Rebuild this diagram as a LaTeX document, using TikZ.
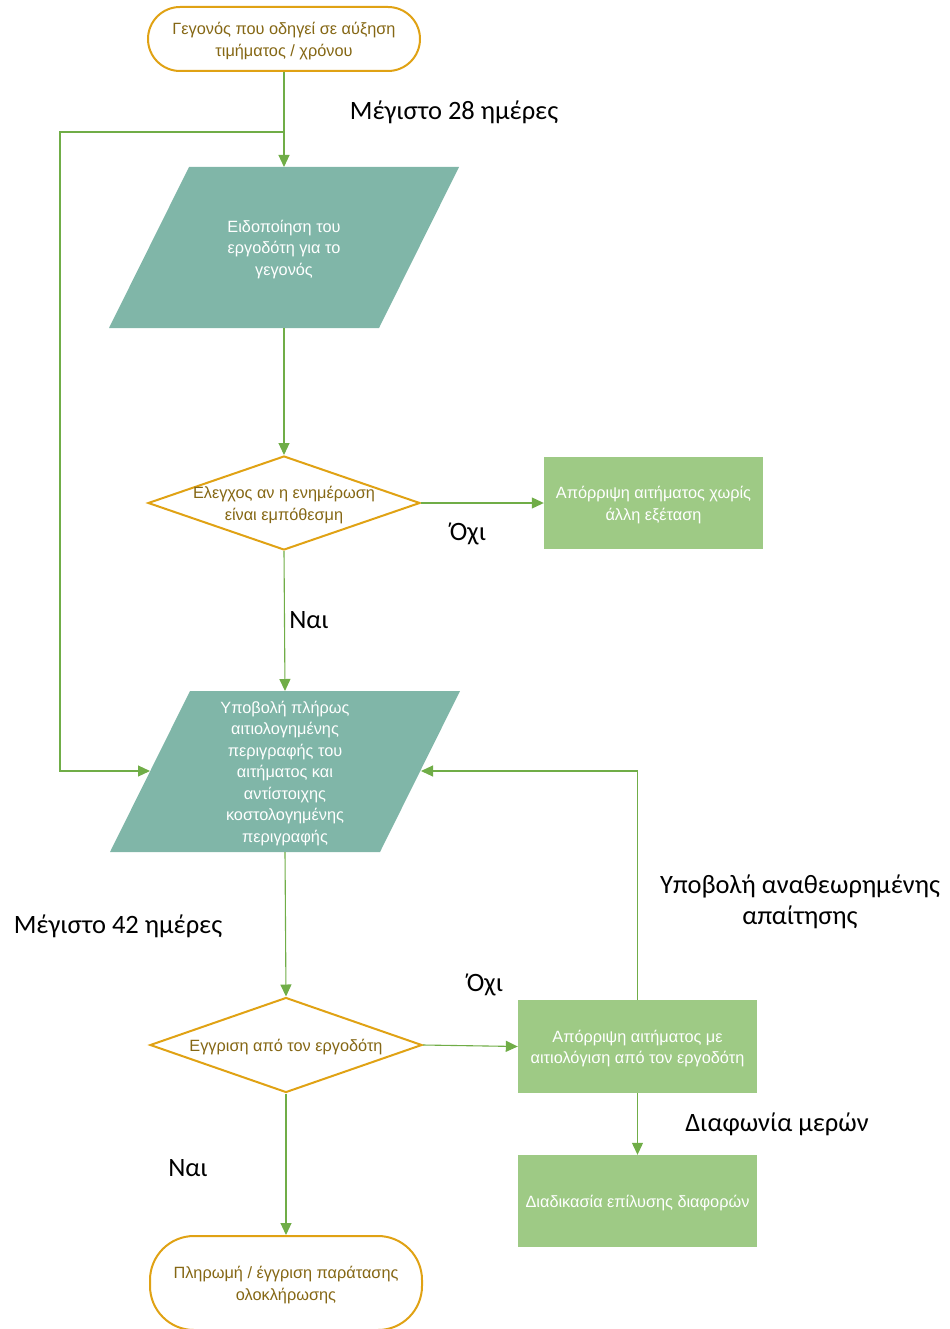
\documentclass[tikz,border=0pt]{standalone}
\usepackage{fontspec}
\setmainfont{Liberation Sans}
\newfontfamily\lblfont{Carlito}
\usetikzlibrary{shapes.geometric,arrows.meta}
\definecolor{conn}{RGB}{112,173,71}
\definecolor{gold}{RGB}{224,162,20}
\definecolor{goldtext}{RGB}{133,103,20}
\definecolor{teal}{RGB}{128,182,168}
\definecolor{lgreen}{RGB}{158,202,133}
\tikzset{
  cline/.style={draw=conn, line width=1.1bp},
  carrow/.style={cline, -{Triangle[length=12bp,width=11bp]}},
  term/.style={draw=gold, line width=2bp, fill=white, inner sep=0pt},
  dia/.style={diamond, draw=gold, line width=2bp, fill=white, inner sep=0pt},
  boxtxt/.style={align=center, yshift=-2bp, font=\fontsize{16.3bp}{21.5bp}\selectfont},
  goldtxt/.style={boxtxt, text=goldtext},
  whitetxt/.style={boxtxt, text=white},
  rbox/.style={rectangle, fill=lgreen, draw=none, inner sep=0pt},
  lbl/.style={font=\lblfont\fontsize{26.5bp}{31bp}\selectfont, yshift=-2bp, align=center, text=black}
}
\begin{document}
\begin{tikzpicture}[x=1bp,y=-1bp]
\useasboundingbox (0,0) rectangle (949,1329);
% start terminator
\node[term, minimum width=272bp, minimum height=64bp, rounded corners=32bp] (start) at (284,39) {};
\node[goldtxt] (starttxt) at (start) {Γεγονός που οδηγεί σε αύξηση\\τιμήματος / χρόνου};
% parallelogram 1
\coordinate (p1n) at (284,167);
\coordinate (p1s) at (284,328);
\fill[teal] (189,167) -- (459,167) -- (379,328) -- (109,328) -- cycle;
\node[whitetxt] (p1) at (284,247.5) {Ειδοποίηση του\\εργοδότη για το\\γεγονός};
% decision 1
\node[dia, minimum width=272bp, minimum height=94bp] (d1) at (284,503) {};
\node[goldtxt] (d1txt) at (284,503) {Ελεγχος αν η ενημέρωση\\είναι εμπόθεσμη};
% reject box 1
\node[rbox, minimum width=219bp, minimum height=92bp] (r1) at (653.5,503) {};
\node[whitetxt] (r1txt) at (r1) {Απόρριψη αιτήματος χωρίς\\άλλη εξέταση};
% parallelogram 2
\coordinate (p2n) at (285,691);
\coordinate (p2s) at (285,852);
\coordinate (p2w) at (150,771);
\coordinate (p2e) at (421,771);
\fill[teal] (190,691) -- (460,691) -- (380,852) -- (110,852) -- cycle;
\node[whitetxt] (p2) at (285,771.5) {Υποβολή πλήρως\\αιτιολογημένης\\περιγραφής του\\αιτήματος και\\αντίστοιχης\\κοστολογημένης\\περιγραφής};
% decision 2
\node[dia, minimum width=272bp, minimum height=95bp] (d2) at (286,1045) {};
\node[goldtxt] (d2txt) at (286,1045) {Εγγριση από τον εργοδότη};
% reject box 2
\node[rbox, minimum width=239bp, minimum height=93bp] (r2) at (637.5,1046.5) {};
\node[whitetxt] (r2txt) at (r2) {Απόρριψη αιτήματος με\\αιτιολόγιση από τον εργοδότη};
% dispute box
\node[rbox, minimum width=239bp, minimum height=92bp] (r3) at (637.5,1201) {};
\node[whitetxt] (r3txt) at (r3) {Διαδικασία επίλυσης διαφορών};
% end terminator
\node[term, minimum width=272bp, minimum height=94bp, rounded corners=44bp] (end) at (286,1283) {};
\node[goldtxt] (endtxt) at (end) {Πληρωμή / έγγριση παράτασης\\ολοκλήρωσης};
% connectors
\coordinate (j1) at (284,132);
\coordinate (c1) at (60,132);
\coordinate (c2) at (60,771);
\draw[carrow] (start.south) -- (p1n);
\draw[carrow] (j1) -- (c1) -- (c2) -- (p2w);
\draw[carrow] (p1s) -- (d1.north);
\draw[carrow] (d1.east) -- (r1.west);
\draw[carrow] (d1.south) -- (p2n);
\draw[carrow] (p2s) -- (d2.north);
\draw[carrow] (d2.east) -- (r2.west);
\draw[carrow] (r2.north) |- (p2e);
\draw[carrow] (r2.south) -- (r3.north);
\draw[carrow] (d2.south) -- (end.north);
% labels
\node[lbl] (l28) at (454,110) {Μέγιστο 28 ημέρες};
\node[lbl] (lno1) at (468,532) {Όχι};
\node[lbl] (lyes1) at (309,618) {Ναι};
\node[lbl] (l42) at (118,924) {Μέγιστο 42 ημέρες};
\node[lbl] (lrev) at (800,900) {Υποβολή αναθεωρημένης\\απαίτησης};
\node[lbl] (lno2) at (485,983) {Όχι};
\node[lbl] (ldisp) at (777,1122) {Διαφωνία μερών};
\node[lbl] (lyes2) at (188,1166) {Ναι};
\end{tikzpicture}
\end{document}
